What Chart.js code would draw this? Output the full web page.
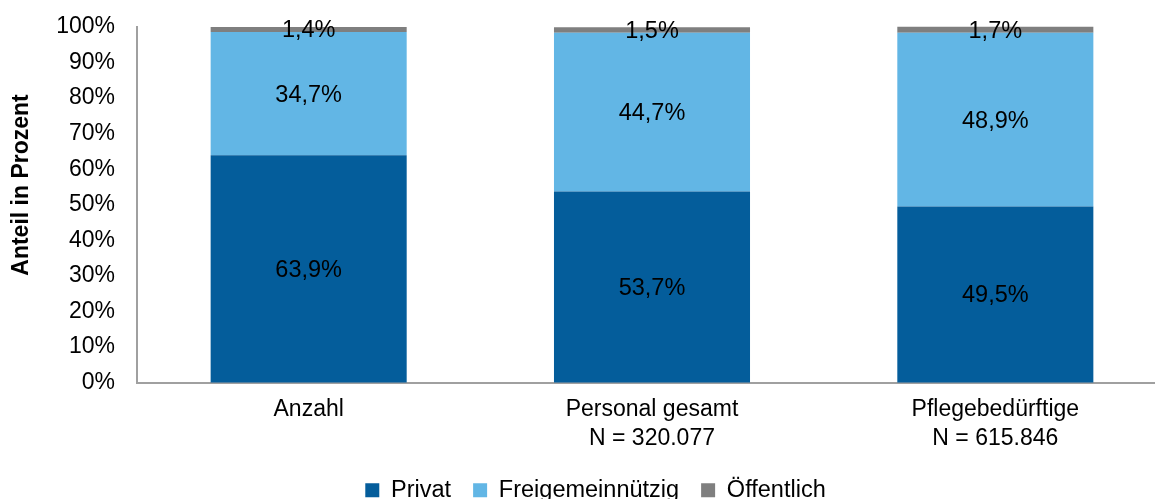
<!DOCTYPE html>
<html>
<head>
<meta charset="utf-8">
<script src="https://cdn.jsdelivr.net/npm/chart.js@4/dist/chart.umd.min.js"></script>
<style>
  html, body { margin: 0; padding: 0; background: #fff; overflow: hidden; }
  #wrap { width: 1190px; height: 512px; }
</style>
</head>
<body>
<div id="wrap"><canvas id="traegerChart" width="1190" height="512"></canvas></div>
<script>
// ========== Data ==========
const categories = ['Anzahl', ['Personal gesamt', 'N = 320.077'], ['Pflegebedürftige', 'N = 615.846']];
const privat = [63.9, 53.7, 49.5];
const freigemeinnuetzig = [34.7, 44.7, 48.9];
const oeffentlich = [1.4, 1.5, 1.7];
const yTicks = [0, 10, 20, 30, 40, 50, 60, 70, 80, 90, 100];
const yTitle = 'Anteil in Prozent';

const FONT = '"Liberation Sans", Arial, sans-serif';

// ========== Value labels inside segments ==========
const segmentLabels = {
    id: 'segmentLabels',
    afterDatasetsDraw(chart) {
        const ctx = chart.ctx;
        ctx.save();
        ctx.font = '23.5px ' + FONT;
        ctx.fillStyle = '#000';
        ctx.textAlign = 'center';
        ctx.textBaseline = 'middle';
        chart.data.datasets.forEach((ds, i) => {
            chart.getDatasetMeta(i).data.forEach((bar, j) => {
                const txt = ds.data[j].toFixed(1).replace('.', ',') + '%';
                ctx.fillText(txt, bar.x, (bar.y + bar.base) / 2 + 1.5);
            });
        });
        ctx.restore();
    }
};

// ========== Rotated y title ==========
const sideTitle = {
    id: 'sideTitle',
    afterDraw(chart) {
        const ctx = chart.ctx;
        ctx.save();
        ctx.translate(22, 185);
        ctx.rotate(-Math.PI / 2);
        ctx.font = 'bold 23px ' + FONT;
        ctx.fillStyle = '#000';
        ctx.textAlign = 'center';
        ctx.textBaseline = 'middle';
        ctx.fillText(yTitle, 0, 0);
        ctx.restore();
    }
};

// ========== Legend nudge (centre like the original) ==========
const legendShift = {
    id: 'legendShift',
    afterLayout(chart) {
        if (chart.legend) {
            chart.legend.left += 12;
            chart.legend.right += 12;
        }
    }
};

// ========== Chart ==========
function generateChart() {
    const ctx = document.getElementById('traegerChart').getContext('2d');
    new Chart(ctx, {
        type: 'bar',
        data: {
            labels: categories,
            datasets: [
                { label: 'Privat', data: privat, backgroundColor: '#045d9b' },
                { label: 'Freigemeinnützig', data: freigemeinnuetzig, backgroundColor: '#62b6e5' },
                { label: 'Öffentlich', data: oeffentlich, backgroundColor: '#7f7f7f' }
            ]
        },
        options: {
            responsive: false,
            animation: false,
            layout: { padding: { left: 0, right: 23, top: 27, bottom: 0 } },
            datasets: { bar: { categoryPercentage: 1, barPercentage: 0.571, clip: false } },
            scales: {
                x: {
                    stacked: true,
                    grid: { display: false, drawTicks: false },
                    border: { display: true, color: '#a0a0a0', width: 2 },
                    ticks: { color: '#000', font: { family: FONT, size: 23, lineHeight: 1.25 }, padding: 13, maxRotation: 0 },
                    afterFit: (scale) => { scale.height = 74; scale.paddingLeft = 0; scale.paddingRight = 0; }
                },
                y: {
                    stacked: true,
                    min: 0,
                    max: 100,
                    afterBuildTicks: (scale) => { scale.ticks = yTicks.map(v => ({ value: v })); },
                    grid: { display: false, drawTicks: false },
                    border: { display: true, color: '#a0a0a0', width: 2 },
                    ticks: { color: '#000', font: { family: FONT, size: 23 }, padding: 22, callback: v => v + '%' },
                    afterFit: (scale) => { scale.width = 137; scale.paddingTop = 0; scale.paddingBottom = 0; }
                }
            },
            plugins: {
                legend: {
                    position: 'bottom',
                    labels: {
                        color: '#000',
                        font: { family: FONT, size: 23.5 },
                        boxWidth: 14,
                        boxHeight: 14,
                        padding: 22
                    }
                },
                tooltip: { enabled: false }
            }
        },
        plugins: [segmentLabels, sideTitle, legendShift]
    });
}

document.addEventListener('DOMContentLoaded', generateChart);
</script>
</body>
</html>
